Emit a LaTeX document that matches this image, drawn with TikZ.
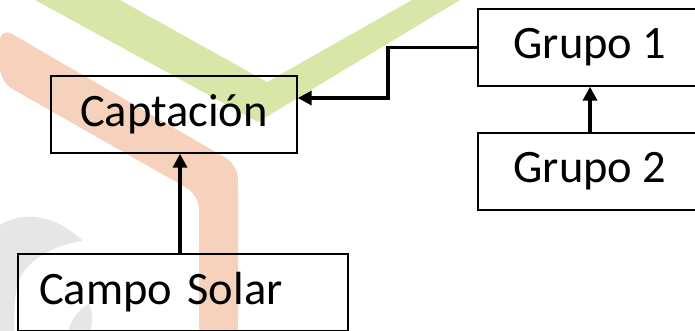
\documentclass[tikz,border=0pt]{standalone}
\usepackage{fontspec}
\setmainfont{Carlito}
\usetikzlibrary{arrows.meta}

\definecolor{wmgreen}{RGB}{216,231,168}
\definecolor{wmorange}{RGB}{246,210,188}
\definecolor{wmgray}{RGB}{230,230,230}

\tikzset{
  box/.style={draw=black, line width=1.4pt, inner sep=0pt,
    minimum height=77pt, font=\fontsize{46.5}{50}\selectfont},
  conn/.style={draw=black, line width=3.6pt,
    -{Triangle[length=14pt,width=14pt]}},
  elbow/.style={conn, line join=miter}
}

\begin{document}
\begin{tikzpicture}[x=1pt, y=-1pt]
  \useasboundingbox (0,0) rectangle (695,331);

  % faint logo watermark behind the chart
  \fill[wmgreen] (35,0) -- (120,0) -- (267,82) -- (412,0) -- (460,0)
    -- (258,122) -- cycle;
  \fill[wmorange, rounded corners=14pt] (0,27) -- (238,165) -- (238,340)
    -- (199,340) -- (199,195) -- (0,82) -- cycle;
  \fill[wmgray] (0,225) .. controls (25,210) and (55,215) .. (83,241)
    .. controls (55,245) and (30,258) .. (20,278)
    .. controls (14,292) and (14,315) .. (14,331) -- (0,331) -- cycle;
  \fill[wmgray] (68,331) .. controls (72,318) and (80,308) .. (89,304)
    .. controls (93,312) and (93,322) .. (90,331) -- cycle;

  % boxes
  \node[box, minimum width=246pt] (capt) at (174,114.5) {Captación};
  \node[box, minimum width=330pt, inner xsep=21pt, text width=288pt,
    align=left] (camp) at (183,292.5) {Campo Solar};
  \node[box, minimum width=224pt] (g1) at (590,47.5) {Grupo 1};
  \node[box, minimum width=224pt] (g2) at (590,171.5) {Grupo 2};

  % connector guides
  \coordinate (sx) at (180,0);
  \coordinate (bend) at (388,0);
  \coordinate (hit) at (0,98);

  % connectors
  \draw[conn] (camp.north -| sx) -- (capt.south -| sx);
  \draw[conn] (g2.north) -- (g1.south);
  \draw[elbow] (g1.west) -- (g1.west -| bend) -- (bend |- hit)
    -- (capt.east |- hit);
\end{tikzpicture}
\end{document}
